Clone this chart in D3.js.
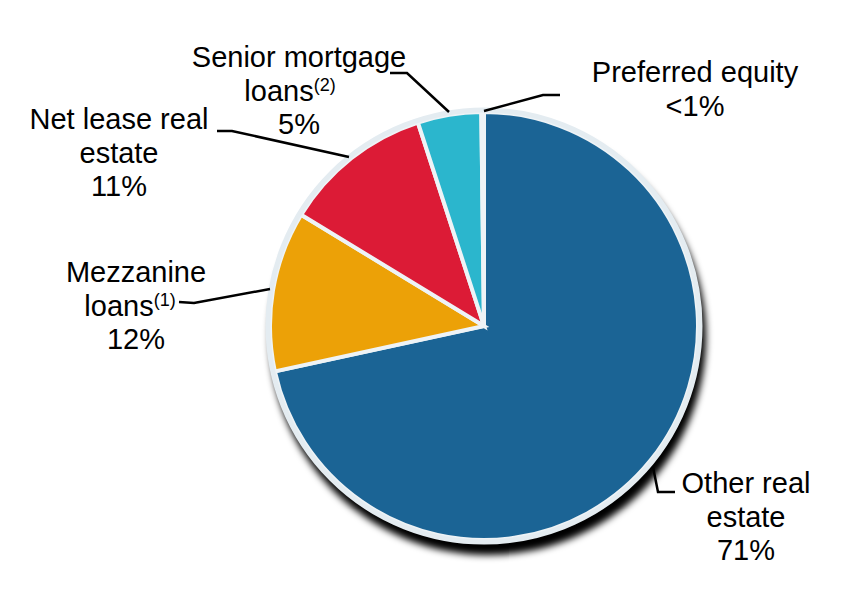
<!DOCTYPE html>
<html>
<head>
<meta charset="utf-8">
<script src="https://cdn.jsdelivr.net/npm/d3@7"></script>
<style>
  body { margin: 0; background: #fff; }
  text { font-family: "Liberation Sans", Arial, sans-serif; fill: #000; }
</style>
</head>
<body>
<div id="chart"></div>
<script>
// Portfolio split (clockwise from 12 o'clock)
const categories = ["Other real estate", "Mezzanine loans", "Net lease real estate", "Senior mortgage loans", "Preferred equity"];
const values = [71.6, 12.1, 11.3, 4.8, 0.2];
const percentLabels = ["71%", "12%", "11%", "5%", "<1%"];
const colors = ["#1b6495", "#eca107", "#dc1b36", "#2bb6cd", "#1b6495"];

const width = 848;
const height = 597;
const cx = 484, cy = 326, radius = 214;

const svg = d3.select("#chart").append("svg")
    .attr("width", width)
    .attr("height", height);

// soft shadow below the pie
const defs = svg.append("defs");
defs.append("filter")
    .attr("id", "blur")
    .attr("x", "-20%").attr("y", "-20%")
    .attr("width", "140%").attr("height", "140%")
  .append("feGaussianBlur")
    .attr("stdDeviation", 3.5);

const g = svg.append("g").attr("transform", `translate(${cx},${cy})`);

g.append("circle")
    .attr("cx", 4)
    .attr("cy", 11)
    .attr("r", radius + 4)
    .style("fill", "#000")
    .attr("filter", "url(#blur)");

const pie = d3.pie().sort(null).value(d => d);
const arc = d3.arc().innerRadius(0).outerRadius(radius);

g.selectAll("path.slice")
    .data(pie(values))
    .enter().append("path")
    .attr("class", "slice")
    .attr("d", arc)
    .style("fill", (d, i) => colors[i])
    .style("stroke", "#eef3f6")
    .style("stroke-width", 4)
    .style("stroke-linejoin", "miter");

// outer rim
g.append("circle")
    .attr("r", radius + 2)
    .style("fill", "none")
    .style("stroke", "#e4ecf1")
    .style("stroke-width", 5);

// labels: lines of text, with optional superscript on one line
const labels = [
  { lines: ["Other real", "estate", percentLabels[0]], x: 746, y: 493 },
  { lines: ["Mezzanine", "loans", percentLabels[1]], sup: "(1)", supLine: 1, supX: 130, x: 136, y: 282 },
  { lines: ["Net lease real", "estate", percentLabels[2]], x: 119, y: 129 },
  { lines: ["Senior mortgage", "loans", percentLabels[3]], sup: "(2)", supLine: 1, supX: 290, x: 299, y: 67 },
  { lines: ["Preferred equity", percentLabels[4]], x: 695, y: 82 }
];
const lineGap = 33.5;

labels.forEach(lab => {
  lab.lines.forEach((t, j) => {
    const hasSup = lab.sup && lab.supLine === j;
    const txt = svg.append("text")
        .attr("x", hasSup ? lab.supX : lab.x)
        .attr("y", lab.y + j * lineGap)
        .attr("text-anchor", "middle")
        .style("font-size", "29px")
        .text(t);
    if (hasSup) {
      txt.append("tspan")
          .attr("dy", -10)
          .style("font-size", "18px")
          .text(lab.sup);
    }
  });
});

// leader lines
const leaders = [
  [[653, 467], [658, 492], [675, 492]],
  [[179, 302], [194, 303], [270, 289]],
  [[217, 131], [232, 131], [349, 157]],
  [[390, 73], [407, 73], [449, 112]],
  [[484, 111], [543, 95], [560, 95]]
];
const line = d3.line();
svg.selectAll("path.leader")
    .data(leaders)
    .enter().append("path")
    .attr("class", "leader")
    .attr("d", line)
    .style("fill", "none")
    .style("stroke", "#000")
    .style("stroke-width", 2.5);
</script>
</body>
</html>
